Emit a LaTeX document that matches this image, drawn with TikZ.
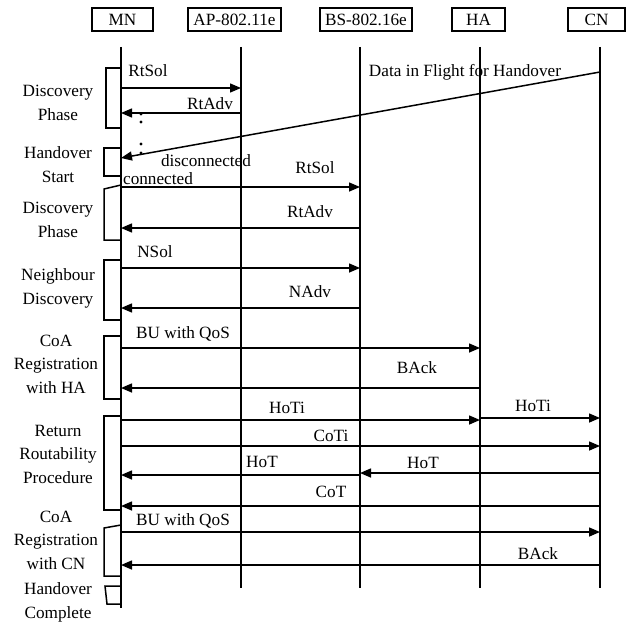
\documentclass[tikz,border=0pt]{standalone}
\usepackage{fontspec}
\setmainfont{Liberation Serif}
\usetikzlibrary{arrows.meta}

\begin{document}
\begin{tikzpicture}[x=0.5pt,y=-0.5pt,line width=0.75pt,
 font=\fontsize{8.6}{11.75}\selectfont,
 entity/.style={draw,minimum height=11.5pt,inner sep=0pt},
 msg/.style={-{Triangle[length=5.5pt,width=4.5pt]}},
 lbl/.style={anchor=base,inner sep=0pt},
 phase/.style={anchor=base,align=center,inner sep=0pt}]
\useasboundingbox (0,0) rectangle (631,626);
% entities and their lifelines
\node[entity,minimum width=30.5pt] (MN) at (122.5,19.5) {MN};
\node[entity,minimum width=46.5pt] (AP) at (234.5,19.5) {AP-802.11e};
\node[entity,minimum width=46pt] (BS) at (366,19.5) {BS-802.16e};
\node[entity,minimum width=26.5pt] (HA) at (478.5,19.5) {HA};
\node[entity,minimum width=28.5pt] (CN) at (596.5,19.5) {CN};
\coordinate (mn) at (121,47);
\coordinate (ap) at (241,47);
\coordinate (bs) at (360,47);
\coordinate (ha) at (480,47);
\coordinate (cn) at (600,47);
\draw (mn) -- (mn |- 0,608);
\foreach \l in {ap,bs,ha,cn}
  \draw (\l) -- (\l |- 0,588);

% phase brackets on the MN lifeline (labels sit on their last baseline)
\draw (mn |- 0,68) -- (106,68) -- (106,128) -- (mn |- 0,128);
\draw (mn |- 0,148) -- (104,148) -- (104,176) -- (mn |- 0,176);
\draw (mn |- 0,185) -- (104,189) -- (104,240) -- (mn |- 0,240);
\draw (mn |- 0,260) -- (104,260) -- (104,320) -- (mn |- 0,320);
\draw (mn |- 0,336) -- (104,336) -- (104,399) -- (mn |- 0,399);
\draw (mn |- 0,416) -- (104,416) -- (104,510) -- (mn |- 0,510);
\draw (mn |- 0,525) -- (104,528) -- (104,576) -- (mn |- 0,576);
\draw (mn |- 0,586) -- (105,586) -- (107,604) -- (mn |- 0,604);
\node[phase] (p1) at (58,120) {Discovery\\Phase};
\node[phase] (p2) at (58,182) {Handover\\Start};
\node[phase] (p3) at (58,237) {Discovery\\Phase};
\node[phase] (p4) at (58,304) {Neighbour\\Discovery};
\node[phase] (p5) at (56,393) {CoA\\Registration\\with HA};
\node[phase] (p6) at (58,483) {Return\\Routability\\Procedure};
\node[phase] (p7) at (56,569) {CoA\\Registration\\with CN};
\node[phase] (p8) at (58,618) {Handover\\Complete};

% link to the WLAN access point
\draw[msg] (mn |- 0,88) -- (ap |- 0,88);
\node[lbl] (m1) at (148,77) {RtSol};
\draw[msg] (ap |- 0,113) -- (mn |- 0,113);
\node[lbl] (m2) at (210,110) {RtAdv};
\foreach \y in {114,122,144,153}
  \fill (141,\y) circle (0.8pt);
\draw[msg] (cn |- 0,72) -- (mn |- 0,158);
\node[lbl] (m3) at (465,77) {Data in Flight for Handover};
\node[lbl] (m4) at (206,166) {disconnected};
\node[lbl] (m5) at (158,184) {connected};

% WiMAX base station
\draw[msg] (mn |- 0,187) -- (bs |- 0,187);
\node[lbl] (m6) at (315,173) {RtSol};
\draw[msg] (bs |- 0,228) -- (mn |- 0,228);
\node[lbl] (m7) at (310,217) {RtAdv};
\draw[msg] (mn |- 0,268) -- (bs |- 0,268);
\node[lbl] (m8) at (155,257) {NSol};
\draw[msg] (bs |- 0,308) -- (mn |- 0,308);
\node[lbl] (m9) at (310,297) {NAdv};

% home agent and correspondent node
\draw[msg] (mn |- 0,348) -- (ha |- 0,348);
\node[lbl] (m10) at (183,338) {BU with QoS};
\draw[msg] (ha |- 0,388) -- (mn |- 0,388);
\node[lbl] (m11) at (417,373) {BAck};
\draw[msg] (mn |- 0,420) -- (ha |- 0,420);
\node[lbl] (m12) at (287,413) {HoTi};
\draw[msg] (ha |- 0,418) -- (cn |- 0,418);
\node[lbl] (m13) at (533,411) {HoTi};
\draw[msg] (mn |- 0,446) -- (cn |- 0,446);
\node[lbl] (m14) at (331,441) {CoTi};
\draw[msg] (cn |- 0,473) -- (bs |- 0,473);
\node[lbl] (m15) at (423,468) {HoT};
\draw[msg] (bs |- 0,475) -- (mn |- 0,475);
\node[lbl] (m16) at (262,467) {HoT};
\draw[msg] (cn |- 0,506) -- (mn |- 0,506);
\node[lbl] (m17) at (331,497) {CoT};
\draw[msg] (mn |- 0,532) -- (cn |- 0,532);
\node[lbl] (m18) at (183,525) {BU with QoS};
\draw[msg] (cn |- 0,565) -- (mn |- 0,565);
\node[lbl] (m19) at (538,559) {BAck};
\end{tikzpicture}
\end{document}
